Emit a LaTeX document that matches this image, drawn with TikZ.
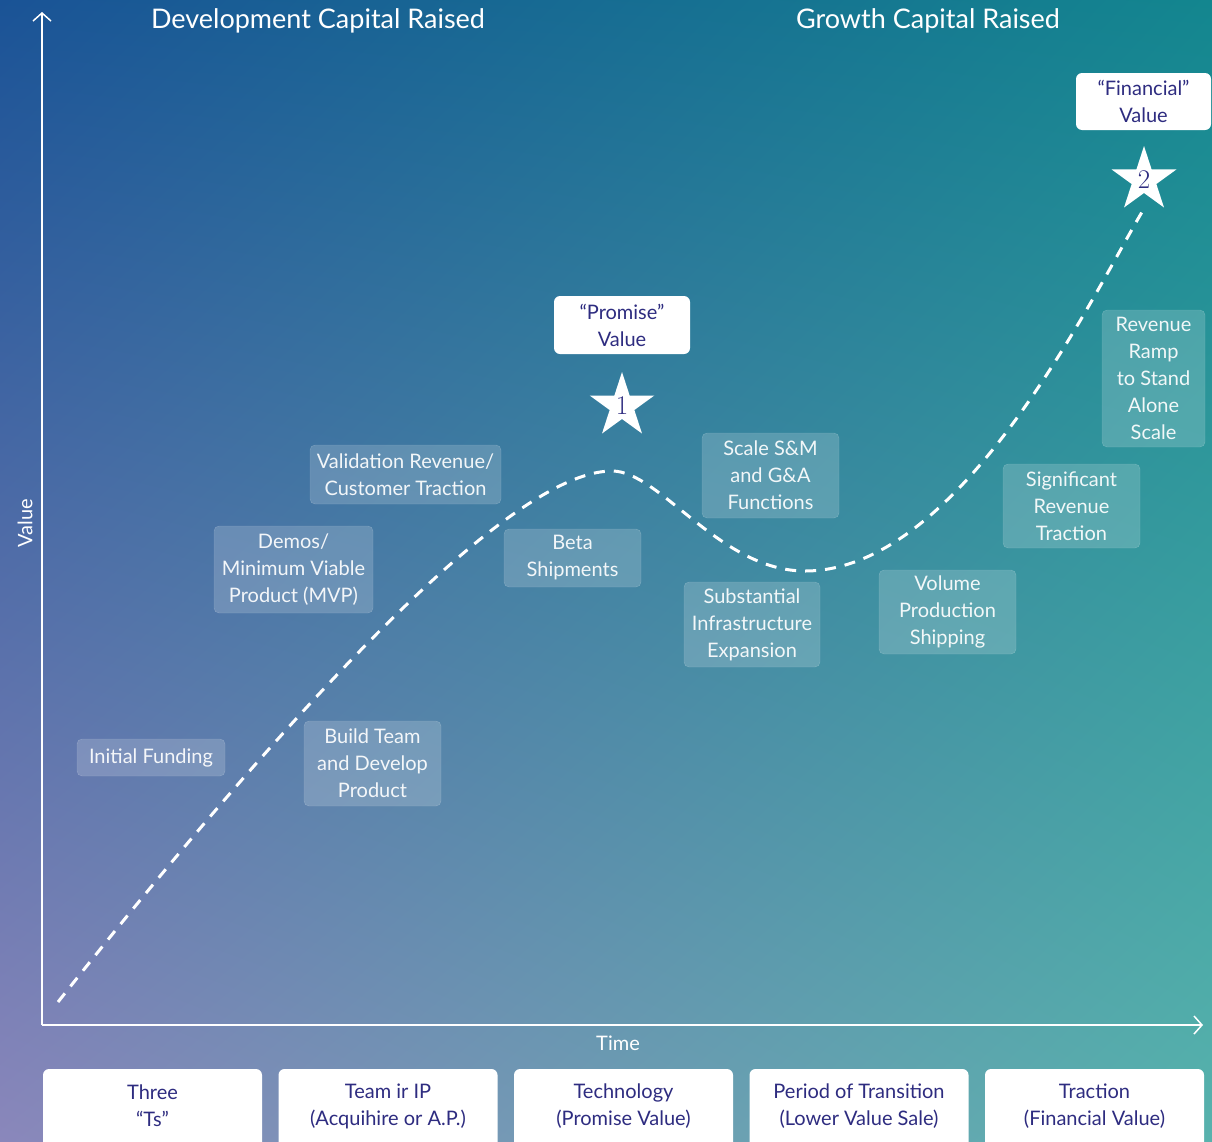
\documentclass[tikz,border=0pt]{standalone}
\usepackage{fontspec}
\setmainfont{Lato}
\newfontfamily\starfont{Latin Modern Roman}
\usetikzlibrary{arrows.meta,shapes.geometric,shadings}

\definecolor{ink}{HTML}{2E2C80}
\definecolor{bgul}{HTML}{1A5396}
\definecolor{bgur}{HTML}{13868F}
\definecolor{bgll}{HTML}{8A87BB}
\definecolor{bglr}{HTML}{58B2AD}

\begin{document}
\begin{tikzpicture}[
            x=1pt, y=-1pt,
            every node/.append style={align=center,inner sep=0pt,font=\fontsize{20}{27}\selectfont},
            stage/.style={fill=white,fill opacity=0.18,draw=white,draw opacity=0.22,
                text=white,text opacity=0.92,rounded corners=5pt},
            worth/.style={fill=white,text=ink,rounded corners=6pt},
            badge/.style={star,star points=5,star point ratio=2.618,minimum size=68pt,
                fill=white,text=ink,font=\fontsize{27}{27}\starfont},
            axis/.style={white,line width=1.5pt,-{Straight Barb[length=8pt,width=18pt]}}
        ]
            \useasboundingbox (0,0) rectangle (1212,1141);
            \clip (0,0) rectangle (1212,1141);
            \shade[upper left=bgul,upper right=bgur,lower left=bgll,lower right=bglr]
                (0,0) rectangle (1212,1141);

            % axes
            \coordinate (o) at (42,1025);
            \coordinate (ytop) at (42,12);
            \coordinate (xend) at (1203,1025);
            \draw[axis] (o) -- (ytop);
            \draw[axis] (o) -- (xend);
            \node[text=white,rotate=90] (vlab) at (25,523) {Value};
            \node[text=white] (tlab) at (618,1043) {Time};
            \node[text=white,font=\fontsize{27}{30}\selectfont] (dev) at (318,21) {Development Capital Raised};
            \node[text=white,font=\fontsize{27}{30}\selectfont] (grow) at (928,21) {Growth Capital Raised};

            % curve
            \coordinate (start) at (58,1002);
            \coordinate (peak) at (612,471);
            \coordinate (dip) at (805,571);
            \coordinate (top) at (1142,212);
            \draw[white,line width=3pt,dash pattern=on 11pt off 9pt]
                (start) .. controls (250,760) and (500,471) .. (peak)
                        .. controls (660,471) and (720,571) .. (dip)
                        .. controls (960,571) and (1090,300) .. (top);

            % milestones
            \node[stage,minimum width=148pt,minimum height=37pt] (fund) at (151,757.5) {Initial Funding};
            \node[stage,minimum width=137pt,minimum height=85pt] (build) at (372.5,763.5) {Build Team\\and Develop\\Product};
            \node[stage,minimum width=159pt,minimum height=87pt] (demo) at (293.5,569.5) {Demos/\\Minimum Viable\\Product (MVP)};
            \node[stage,minimum width=191pt,minimum height=59pt] (valid) at (405.5,474.5) {Validation Revenue/\\Customer Traction};
            \node[stage,minimum width=137pt,minimum height=58pt] (beta) at (572.5,558) {Beta\\Shipments};
            \node[stage,minimum width=137pt,minimum height=85pt] (scale) at (770.5,475.5) {Scale S\&M\\and G\&A\\Functions};
            \node[stage,minimum width=136pt,minimum height=85pt] (infra) at (752,624.5) {Substantial\\Infrastructure\\Expansion};
            \node[stage,minimum width=137pt,minimum height=84pt] (volume) at (947.5,612) {Volume\\Production\\Shipping};
            \node[stage,minimum width=137pt,minimum height=84pt] (signif) at (1071.5,506) {Significant\\Revenue\\Traction};
            \node[stage,minimum width=103pt,minimum height=137pt] (ramp) at (1153.5,378.5) {Revenue\\Ramp\\to Stand\\Alone\\Scale};

            % value points
            \node[worth,minimum width=136pt,minimum height=58pt] (promise) at (622,325) {“Promise”\\Value};
            \node[badge] (s1) at (622,406) {1};
            \node[worth,minimum width=135pt,minimum height=57pt] (financial) at (1143.5,101.5) {“Financial”\\Value};
            \node[badge] (s2) at (1144,180) {2};

            % phases
            \foreach \i/\txt in {1/{Three\\“Ts”},2/{Team ir IP\\(Acquihire or A.P.)},
                    3/{Technology\\(Promise Value)},4/{Period of Transition\\(Lower Value Sale)},
                    5/{Traction\\(Financial Value)}} {
                \fill[white,rounded corners=6pt] ({43+235.5*(\i-1)},1069) rectangle ({262+235.5*(\i-1)},1170);
                \node[text=ink] (t\i) at ({152.5+235.5*(\i-1)},1106) {\txt};
            }
        \end{tikzpicture}
\end{document}
